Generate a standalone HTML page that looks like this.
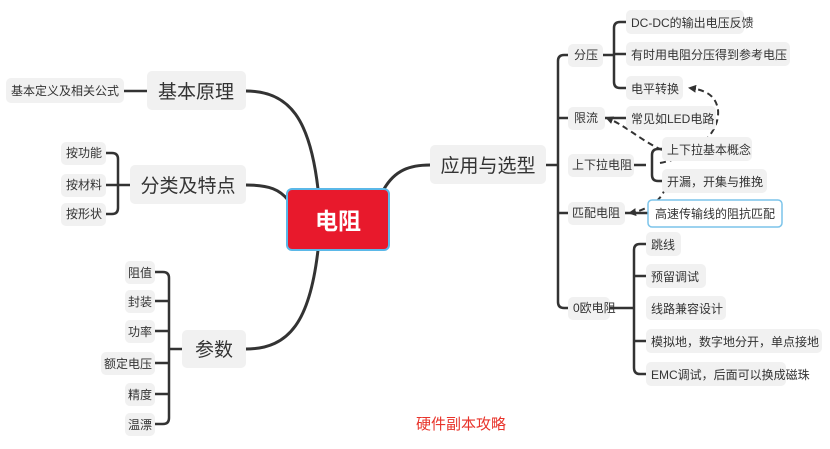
<!DOCTYPE html>
<html><head><meta charset="utf-8"><style>
html,body{margin:0;padding:0;background:#fff;}
svg text{font-family:"Liberation Sans","Noto Sans CJK SC",sans-serif;fill:#333;}
</style></head><body>
<svg width="830" height="444" viewBox="0 0 830 444" xmlns="http://www.w3.org/2000/svg">
<defs><marker id="ah" markerWidth="8" markerHeight="8" refX="6" refY="4" orient="auto" markerUnits="userSpaceOnUse"><path d="M0,0 L8,4 L0,8 z" fill="#333"/></marker></defs>
<g fill="none" stroke="#333" stroke-width="3" stroke-linecap="round">
<path d="M246,91 C290,91 310,120 318,189"/>
<path d="M246,185 C270,185 280,190 288,200"/>
<path d="M246,349 C290,349 310,320 318,250"/>
<path d="M384,189 C395,170 410,165 430,165"/>
</g>
<g fill="none" stroke="#333" stroke-width="2.5">
<path d="M124,91 H147"/>
<path d="M106,153 H112 Q118,153 118,159 V208 Q118,214 112,214 H106 M106,185 H130"/>
<path d="M155,272 H163 Q169,272 169,278 V418 Q169,424 163,424 H155 M155,301 H169 M155,331 H169 M155,363 H169 M155,394 H169 M169,349 H182"/>
<path d="M546,165 H558 M568,55 H564 Q558,55 558,61 V302 Q558,308 564,308 H568 M558,118 H568 M558,213 H568"/>
<path d="M603,55 H614 M626,22 H620 Q614,22 614,28 V82 Q614,88 620,88 H626 M614,54 H626"/>
<path d="M605,118 H626"/>
<path d="M634,165 H646 M662,149 H658 Q652,149 652,155 V175 Q652,181 658,181 H662"/>
<path d="M625,213 H648"/>
<path d="M610,308 H634 M646,244 H640 Q634,244 634,250 V368 Q634,374 640,374 H646 M634,276 H646 M634,341 H646"/>
</g>
<g fill="none" stroke="#333" stroke-width="2" stroke-dasharray="6,4">
<path d="M662,150 C640,140 625,125 607,118" marker-end="url(#ah)"/>
<path d="M660,163 C700,155 720,130 718,110 C716,95 705,90 690,88" marker-end="url(#ah)"/>
<path d="M665,178 C670,195 650,210 630,213" marker-end="url(#ah)"/>
</g>
<g fill="#f1f1f1">
<rect x="147" y="71" width="99" height="39" rx="5"/>
<rect x="6" y="78" width="118" height="25" rx="5"/>
<rect x="130" y="165" width="116" height="39" rx="5"/>
<rect x="61" y="142" width="45" height="23" rx="5"/>
<rect x="61" y="174" width="45" height="23" rx="5"/>
<rect x="61" y="203" width="45" height="23" rx="5"/>
<rect x="182" y="330" width="64" height="38" rx="5"/>
<rect x="125" y="261" width="30" height="23" rx="5"/>
<rect x="125" y="290" width="30" height="23" rx="5"/>
<rect x="125" y="320" width="30" height="23" rx="5"/>
<rect x="101" y="352" width="54" height="23" rx="5"/>
<rect x="125" y="383" width="30" height="23" rx="5"/>
<rect x="125" y="413" width="30" height="23" rx="5"/>
<rect x="430" y="145" width="116" height="39" rx="5"/>
<rect x="568" y="44" width="35" height="23" rx="5"/>
<rect x="568" y="107" width="37" height="23" rx="5"/>
<rect x="568" y="154" width="66" height="23" rx="5"/>
<rect x="568" y="202" width="57" height="23" rx="5"/>
<rect x="568" y="297" width="42" height="23" rx="5"/>
<rect x="626" y="10" width="118" height="24" rx="5"/>
<rect x="626" y="42" width="164" height="24" rx="5"/>
<rect x="626" y="76" width="57" height="24" rx="5"/>
<rect x="626" y="106" width="90" height="24" rx="5"/>
<rect x="662" y="137" width="90" height="24" rx="5"/>
<rect x="662" y="169" width="105" height="24" rx="5"/>
<rect x="646" y="232" width="35" height="24" rx="5"/>
<rect x="646" y="264" width="60" height="24" rx="5"/>
<rect x="646" y="296" width="80" height="24" rx="5"/>
<rect x="646" y="329" width="176" height="24" rx="5"/>
<rect x="646" y="362" width="140" height="24" rx="5"/>
</g>
<rect x="648" y="200" width="134" height="27" rx="4" fill="#fff" stroke="#7cc4ea" stroke-width="1.5"/>
<rect x="287" y="189" width="102" height="61" rx="5" fill="#e8192c" stroke="#5bb8e8" stroke-width="2"/>
<text x="338" y="229" font-size="23" font-weight="bold" text-anchor="middle" style="fill:#fff">电阻</text>
<g font-size="19" text-anchor="middle">
<text x="196" y="98">基本原理</text>
<text x="188" y="192">分类及特点</text>
<text x="214" y="356">参数</text>
<text x="488" y="172">应用与选型</text>
</g>
<g font-size="12" text-anchor="middle">
<text x="65" y="95">基本定义及相关公式</text>
<text x="84" y="157">按功能</text><text x="84" y="189">按材料</text><text x="84" y="218">按形状</text>
<text x="140" y="277">阻值</text><text x="140" y="306">封装</text><text x="140" y="336">功率</text>
<text x="128" y="368">额定电压</text><text x="140" y="399">精度</text><text x="140" y="429">温漂</text>
</g>
<g font-size="12">
<text x="574" y="59">分压</text>
<text x="574" y="122">限流</text>
<text x="572" y="169">上下拉电阻</text>
<text x="572" y="217">匹配电阻</text>
<text x="573" y="312">0欧电阻</text>
<text x="631" y="27">DC-DC的输出电压反馈</text>
<text x="631" y="59">有时用电阻分压得到参考电压</text>
<text x="631" y="93">电平转换</text>
<text x="631" y="123">常见如LED电路</text>
<text x="667" y="154">上下拉基本概念</text>
<text x="667" y="186">开漏，开集与推挽</text>
<text x="655" y="218">高速传输线的阻抗匹配</text>
<text x="651" y="249">跳线</text>
<text x="651" y="281">预留调试</text>
<text x="651" y="313">线路兼容设计</text>
<text x="651" y="346">模拟地，数字地分开，单点接地</text>
<text x="651" y="379">EMC调试，后面可以换成磁珠</text>
</g>
<text x="461" y="429" font-size="15" text-anchor="middle" style="fill:#e8332a">硬件副本攻略</text>
</svg>
</body></html>
